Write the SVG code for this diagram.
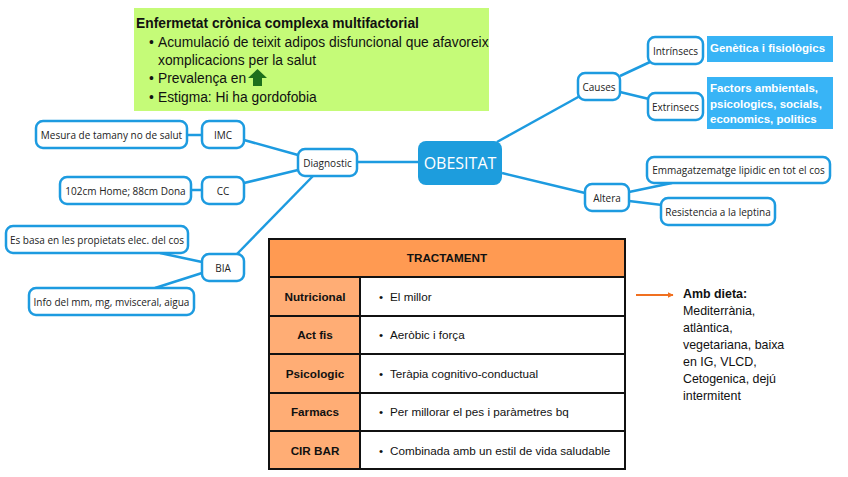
<svg xmlns="http://www.w3.org/2000/svg" width="848" height="477" viewBox="0 0 848 477">
<defs>
<style>
.n rect{fill:#fff;stroke:#1d9be0;stroke-width:2.5}
.n text{font-family:"Open Sans","Noto Sans",sans-serif;font-size:10px;fill:#222;text-anchor:middle;dominant-baseline:central}
.c line{stroke:#1d9be0;stroke-width:2.5}
.lb rect{fill:#38b4f6}
.lb text{font-family:"Liberation Sans",Arial,sans-serif;font-weight:bold;font-size:11.5px;fill:#fff}
.g text{font-family:"Liberation Sans",Arial,sans-serif;font-size:13.8px;fill:#111}
.t text{font-family:"Liberation Sans",Arial,sans-serif;font-size:11.7px;fill:#111}
.t .h{font-weight:bold;text-anchor:middle}
.d text{font-family:"Liberation Sans",Arial,sans-serif;font-size:12.4px;fill:#111}
</style>
<marker id="oa" viewBox="0 0 10 10" refX="9" refY="5" markerWidth="6" markerHeight="6" orient="auto" markerUnits="userSpaceOnUse"><path d="M0,0 L10,5 L0,10 z" fill="#f07020"/></marker>
</defs>
<rect width="848" height="477" fill="#fff"/>

<g id="info" class="g">
<rect x="134" y="8" width="355" height="103" fill="#c5fb78"/>
<text x="136" y="28" font-weight="bold" font-size="13.2">Enfermetat crònica complexa multifactorial</text>
<text x="149" y="47">•</text><text x="158" y="47">Acumulació de teixit adipos disfuncional que afavoreix</text>
<text x="158" y="65">xomplicacions per la salut</text>
<text x="149" y="83">•</text><text x="158" y="83" font-size="13.5">Prevalença en</text>
<path d="M257.5,69 L267,78 L262,78 L262,86 L253,86 L253,78 L248,78 Z" fill="#1d6f1d"/>
<text x="149" y="102">•</text><text x="158" y="102">Estigma: Hi ha gordofobia</text>
</g>

<g id="connectors" class="c">
<line x1="187" y1="135" x2="202" y2="135"/>
<line x1="191" y1="190" x2="202" y2="190"/>
<line x1="244" y1="140" x2="298" y2="155"/>
<line x1="244" y1="183" x2="298" y2="170"/>
<line x1="237" y1="254" x2="313" y2="176"/>
<line x1="160" y1="253" x2="202" y2="262"/>
<line x1="155" y1="288" x2="202" y2="273"/>
<line x1="357" y1="162" x2="418" y2="162"/>
<line x1="497" y1="142" x2="580" y2="96"/>
<line x1="620" y1="76" x2="650" y2="62"/>
<line x1="620" y1="92" x2="649" y2="99"/>
<line x1="502" y1="173" x2="585" y2="193"/>
<line x1="629" y1="192" x2="672" y2="183"/>
<line x1="629" y1="201" x2="662" y2="205"/>
</g>

<g id="obesitat">
<rect x="418" y="141" width="84" height="44" rx="8" fill="#1d9ddd"/>
<text x="460" y="163" font-family="'Open Sans','Noto Sans',sans-serif" font-size="16" fill="#fff" text-anchor="middle" dominant-baseline="central">OBESITAT</text>
</g>

<g id="diagnostic" class="n"><rect x="298" y="149" width="59" height="27" rx="7"/><text x="327.5" y="162.5">Diagnostic</text></g>
<g id="imc" class="n"><rect x="202" y="121" width="42" height="27" rx="7"/><text x="223" y="134.5">IMC</text></g>
<g id="imc-desc" class="n"><rect x="36" y="121" width="151" height="27" rx="7"/><text x="111.5" y="134.5">Mesura de tamany no de salut</text></g>
<g id="cc" class="n"><rect x="202" y="177" width="42" height="27" rx="7"/><text x="223" y="190.5">CC</text></g>
<g id="cc-desc" class="n"><rect x="60" y="177" width="131" height="27" rx="7"/><text x="125.5" y="190.5">102cm Home; 88cm Dona</text></g>
<g id="bia" class="n"><rect x="202" y="254" width="42" height="27" rx="7"/><text x="223" y="267.5">BIA</text></g>
<g id="bia-1" class="n"><rect x="6" y="226" width="182" height="27" rx="7"/><text x="97" y="239.5">Es basa en les propietats elec. del cos</text></g>
<g id="bia-2" class="n"><rect x="29" y="288" width="165" height="27" rx="7"/><text x="111.5" y="301.5">Info del mm, mg, mvisceral, aigua</text></g>

<g id="causes" class="n"><rect x="578" y="73" width="42" height="27" rx="7"/><text x="599" y="86.5">Causes</text></g>
<g id="intrinsecs" class="n"><rect x="648" y="37" width="55" height="27" rx="7"/><text x="675.5" y="50.5">Intrínsecs</text></g>
<g id="extrinsecs" class="n"><rect x="648" y="93" width="55" height="27" rx="7"/><text x="675.5" y="106.5">Extrinsecs</text></g>
<g id="genetica" class="lb"><rect x="707" y="36" width="126" height="26"/><text x="710" y="52">Genètica i fisiològics</text></g>
<g id="factors" class="lb"><rect x="707" y="77" width="126" height="52"/><text x="710" y="92">Factors ambientals,</text><text x="710" y="108">psicologics, socials,</text><text x="710" y="123">economics, politics</text></g>
<g id="altera" class="n"><rect x="585" y="184" width="44" height="27" rx="7"/><text x="607" y="197.5">Altera</text></g>
<g id="emmagatzematge" class="n"><rect x="647" y="157" width="183" height="26" rx="7"/><text x="738.5" y="170">Emmagatzematge lipidic en tot el cos</text></g>
<g id="resistencia" class="n"><rect x="661" y="198" width="114" height="27" rx="7"/><text x="718" y="211.5">Resistencia a la leptina</text></g>

<g id="tractament" class="t">
<rect x="269" y="239" width="356" height="38" fill="#ff9a52"/>
<rect x="269" y="277" width="91" height="192" fill="#ffad75"/>
<rect x="360" y="277" width="265" height="192" fill="#fff"/>
<g stroke="#111" stroke-width="2" fill="none">
<rect x="269" y="239" width="356" height="230"/>
<line x1="269" y1="277" x2="625" y2="277"/>
<line x1="269" y1="316" x2="625" y2="316"/>
<line x1="269" y1="354" x2="625" y2="354"/>
<line x1="269" y1="393" x2="625" y2="393"/>
<line x1="269" y1="431" x2="625" y2="431"/>
<line x1="360" y1="277" x2="360" y2="469"/>
</g>
<text class="h" x="447" y="262">TRACTAMENT</text>
<text class="h" x="315" y="301">Nutricional</text>
<text class="h" x="315" y="339">Act fis</text>
<text class="h" x="315" y="378">Psicologic</text>
<text class="h" x="315" y="416">Farmacs</text>
<text class="h" x="315" y="455">CIR BAR</text>
<text x="379" y="301">•</text><text x="390" y="301">El millor</text>
<text x="379" y="339">•</text><text x="390" y="339">Aeròbic i força</text>
<text x="379" y="378">•</text><text x="390" y="378">Teràpia cognitivo-conductual</text>
<text x="379" y="416">•</text><text x="390" y="416">Per millorar el pes i paràmetres bq</text>
<text x="379" y="455">•</text><text x="390" y="455">Combinada amb un estil de vida saludable</text>
</g>

<g id="dieta" class="d">
<line x1="636" y1="295" x2="673" y2="295" stroke="#f07020" stroke-width="2" marker-end="url(#oa)"/>
<text x="683" y="298" font-weight="bold">Amb dieta:</text>
<text x="683" y="315">Mediterrània,</text>
<text x="683" y="332">atlàntica,</text>
<text x="683" y="349">vegetariana, baixa</text>
<text x="683" y="366">en IG, VLCD,</text>
<text x="683" y="383">Cetogenica, dejú</text>
<text x="683" y="400">intermitent</text>
</g>
</svg>
